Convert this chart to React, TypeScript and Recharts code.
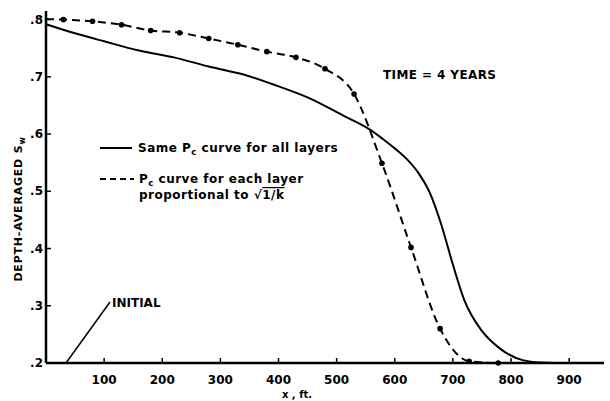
import React from 'react';
import { ComposedChart, Line, Scatter, XAxis, YAxis } from 'recharts';

// Same Pc curve for all layers (solid)
const sameXs = [0, 50, 100, 160, 220, 280, 340, 390, 450, 510, 560, 580, 600, 620, 640, 660, 680, 700, 720, 750, 780, 820, 850, 900, 960];
const sameSw = [0.792, 0.776, 0.762, 0.746, 0.734, 0.718, 0.704, 0.687, 0.664, 0.633, 0.606, 0.591, 0.575, 0.557, 0.533, 0.498, 0.442, 0.372, 0.309, 0.256, 0.226, 0.205, 0.201, 0.2, 0.2];

// Pc proportional to sqrt(1/k) (dashed, computed points)
const propXs = [0, 30, 80, 130, 180, 230, 280, 330, 380, 430, 480, 530, 578, 628, 678, 728, 778, 830];
const propSw = [0.801, 0.8, 0.797, 0.791, 0.781, 0.777, 0.767, 0.756, 0.744, 0.734, 0.714, 0.67, 0.549, 0.402, 0.26, 0.203, 0.2, 0.2];
const markXs = [30, 80, 130, 180, 230, 280, 330, 380, 430, 480, 530, 578, 628, 678, 728, 778];
const markSw = [0.8, 0.797, 0.791, 0.781, 0.777, 0.767, 0.756, 0.744, 0.734, 0.714, 0.67, 0.549, 0.402, 0.26, 0.203, 0.2];

const initialXs = [0, 960];
const initialSw = [0.2, 0.2];

const xTicks = [100, 200, 300, 400, 500, 600, 700, 800, 900];
const yTicks = [0.2, 0.3, 0.4, 0.5, 0.6, 0.7, 0.8];

const zip = (xs: number[], ys: number[]) => xs.map((x, i) => ({ x, y: ys[i] }));

const W = 610;
const H = 401;
const PLOT_LEFT = 46;
const PLOT_BOTTOM = 363;
const FONT = '"DejaVu Sans", sans-serif';

const YTick = (props: any) => {
  const { y, payload } = props;
  return (
    <g>
      <line x1={PLOT_LEFT} x2={PLOT_LEFT + 5} y1={y} y2={y} stroke="#000" strokeWidth={1.5} />
      <text x={PLOT_LEFT - 3} y={y} dy={4} textAnchor="end" fontFamily={FONT} fontWeight="bold" fontSize={12} fill="#000">
        {'.' + Math.round(payload.value * 10)}
      </text>
    </g>
  );
};

const XTick = (props: any) => {
  const { x, payload } = props;
  return (
    <g>
      <line x1={x} x2={x} y1={PLOT_BOTTOM} y2={PLOT_BOTTOM - 5} stroke="#000" strokeWidth={1.5} />
      <text x={x} y={PLOT_BOTTOM + 21} textAnchor="middle" fontFamily={FONT} fontWeight="bold" fontSize={12} fill="#000">
        {payload.value}
      </text>
    </g>
  );
};

const Dot = (props: any) => <circle cx={props.cx} cy={props.cy} r={2.8} fill="#000" />;

export default function App() {
  const txt = { fontFamily: FONT, fontWeight: 'bold' as const, fill: '#000' };
  return (
    <div style={{ position: 'absolute', left: 0, top: 0, width: W, height: H, background: '#fff' }}>
      <ComposedChart width={W} height={H} margin={{ top: 11, right: 6, bottom: 0, left: 0 }}>
        <XAxis
          type="number"
          dataKey="x"
          domain={[0, 960]}
          ticks={xTicks}
          height={H - PLOT_BOTTOM}
          tick={<XTick />}
          tickLine={false}
          axisLine={{ stroke: '#000', strokeWidth: 2.5 }}
          allowDuplicatedCategory={false}
        />
        <YAxis
          type="number"
          domain={[0.2, 0.815]}
          ticks={yTicks}
          width={PLOT_LEFT}
          tick={<YTick />}
          tickLine={false}
          axisLine={{ stroke: '#000', strokeWidth: 2.5 }}
        />
        <Line data={zip(initialXs, initialSw)} dataKey="y" type="linear" stroke="#000" strokeWidth={2} dot={false} isAnimationActive={false} />
        <Line data={zip(sameXs, sameSw)} dataKey="y" type="monotone" stroke="#000" strokeWidth={2} dot={false} isAnimationActive={false} />
        <Line data={zip(propXs, propSw)} dataKey="y" type="monotone" stroke="#000" strokeWidth={2} strokeDasharray="8 5" dot={false} isAnimationActive={false} />
        <Scatter data={zip(markXs, markSw)} dataKey="y" shape={<Dot />} isAnimationActive={false} />
      </ComposedChart>
      <svg width={W} height={H} style={{ position: 'absolute', left: 0, top: 0, pointerEvents: 'none' }}>
        <text x={18} y={209} transform="rotate(-90 18 209)" textAnchor="middle" dy={4} fontSize={11} letterSpacing={0.8} {...txt}>
          DEPTH-AVERAGED S<tspan fontSize={8} dy={3}>w</tspan>
        </text>
        <text x={297} y={398} textAnchor="middle" fontSize={10} {...txt}>x , ft.</text>
        <text x={383} y={79} fontSize={12} letterSpacing={0.4} {...txt}>TIME  = 4 YEARS</text>

        <line x1={66} y1={363} x2={110} y2={302} stroke="#000" strokeWidth={1.5} />
        <text x={112} y={307} fontSize={12} {...txt}>INITIAL</text>

        <line x1={100} y1={148} x2={132} y2={148} stroke="#000" strokeWidth={2} />
        <text x={138} y={152} fontSize={12} letterSpacing={0.5} {...txt}>
          Same P<tspan fontSize={8.5} dy={3}>c</tspan><tspan dy={-3}> curve for all layers</tspan>
        </text>
        <line x1={100} y1={179} x2={134} y2={179} stroke="#000" strokeWidth={2} strokeDasharray="6 4" />
        <text x={139} y={183} fontSize={12} letterSpacing={0.5} {...txt}>
          P<tspan fontSize={8.5} dy={3}>c</tspan><tspan dy={-3}> curve  for each layer</tspan>
        </text>
        <text x={139} y={199} fontSize={12} letterSpacing={0.5} {...txt}>
          proportional to √<tspan style={{ textDecoration: 'overline' }}>1/k</tspan>
        </text>
      </svg>
    </div>
  );
}
